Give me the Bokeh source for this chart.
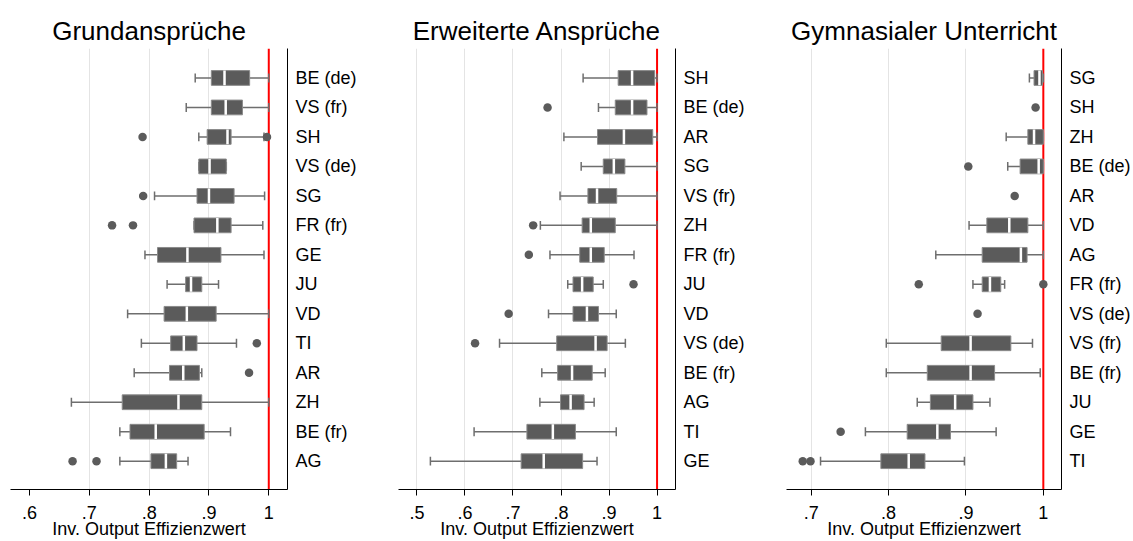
import numpy as np
from bokeh.plotting import figure
from bokeh.layouts import row
from bokeh.models import Range1d, FixedTicker, Span, ColumnDataSource
from bokeh.embed import file_html
from bokeh.resources import INLINE

NaN = float("nan")

# ---------------- data ----------------
# Panel 1: Grundansprüche (top to bottom)
p1_cats = ["BE (de)", "VS (fr)", "SH", "VS (de)", "SG", "FR (fr)", "GE",
           "JU", "VD", "TI", "AR", "ZH", "BE (fr)", "AG"]
p1_wlo = [0.877, 0.862, 0.883, 0.883, 0.809, 0.875, 0.793, 0.830, 0.764, 0.787, 0.775, 0.670, 0.751, 0.751]
p1_q1  = [0.904, 0.904, 0.897, 0.883, 0.880, 0.875, 0.814, 0.861, 0.825, 0.836, 0.834, 0.755, 0.768, 0.803]
p1_med = [0.926, 0.928, 0.931, 0.901, 0.900, 0.914, 0.864, 0.870, 0.863, 0.858, 0.857, 0.849, 0.811, 0.828]
p1_q3  = [0.968, 0.956, 0.937, 0.929, 0.942, 0.937, 0.920, 0.888, 0.912, 0.880, 0.884, 0.888, 0.892, 0.846]
p1_whi = [1.000, 1.000, 0.992, 0.929, 0.993, 0.990, 0.992, 0.916, 1.000, 0.946, 0.888, 1.000, 0.936, 0.865]
p1_out_cat = ["SH", "SH", "SG", "FR (fr)", "FR (fr)", "TI", "AR", "AG", "AG"]
p1_out_val = [0.789, 0.997, 0.790, 0.738, 0.773, 0.980, 0.967, 0.672, 0.712]

# Panel 2: Erweiterte Ansprüche
p2_cats = ["SH", "BE (de)", "AR", "SG", "VS (fr)", "ZH", "FR (fr)",
           "JU", "VD", "VS (de)", "BE (fr)", "AG", "TI", "GE"]
p2_wlo = [0.846, 0.878, 0.806, 0.842, 0.798, 0.757, 0.777, 0.814, 0.774, 0.672, 0.760, 0.756, 0.619, 0.528]
p2_q1  = [0.919, 0.913, 0.876, 0.888, 0.856, 0.844, 0.839, 0.825, 0.825, 0.791, 0.793, 0.799, 0.729, 0.717]
p2_med = [0.948, 0.948, 0.931, 0.910, 0.875, 0.862, 0.862, 0.844, 0.854, 0.872, 0.823, 0.820, 0.783, 0.764]
p2_q3  = [0.995, 0.979, 0.991, 0.933, 0.916, 0.913, 0.890, 0.867, 0.878, 0.896, 0.865, 0.848, 0.830, 0.845]
p2_whi = [1.000, 1.000, 1.000, 1.000, 1.000, 1.000, 0.952, 0.888, 0.915, 0.934, 0.892, 0.869, 0.915, 0.875]
p2_out_cat = ["BE (de)", "ZH", "FR (fr)", "JU", "VD", "VS (de)"]
p2_out_val = [0.772, 0.742, 0.733, 0.951, 0.691, 0.621]

# Panel 3: Gymnasialer Unterricht
p3_cats = ["SG", "SH", "ZH", "BE (de)", "AR", "VD", "AG", "FR (fr)",
           "VS (de)", "VS (fr)", "BE (fr)", "JU", "GE", "TI"]
p3_wlo = [0.982, NaN, 0.952, 0.954, NaN, 0.904, 0.861, 0.909, NaN, 0.797, 0.797, 0.837, 0.770, 0.712]
p3_q1  = [0.988, NaN, 0.980, 0.970, NaN, 0.927, 0.921, 0.921, NaN, 0.868, 0.850, 0.854, 0.824, 0.790]
p3_med = [0.995, NaN, 0.988, 0.994, NaN, 0.956, 0.971, 0.931, NaN, 0.906, 0.906, 0.886, 0.863, 0.826]
p3_q3  = [0.999, NaN, 1.000, 1.000, NaN, 0.980, 0.979, 0.945, NaN, 0.958, 0.937, 0.909, 0.880, 0.847]
p3_whi = [1.000, NaN, 1.000, 1.000, NaN, 1.000, 1.000, 0.950, NaN, 0.986, 0.996, 0.931, 0.939, 0.898]
p3_out_cat = ["SH", "BE (de)", "AR", "FR (fr)", "FR (fr)", "VS (de)", "GE", "TI", "TI"]
p3_out_val = [0.990, 0.903, 0.963, 0.839, 1.000, 0.915, 0.738, 0.689, 0.699]

titles = ["Grundansprüche", "Erweiterte Ansprüche", "Gymnasialer Unterricht"]
x_label = "Inv. Output Effizienzwert"
p1_xticks = [0.6, 0.7, 0.8, 0.9, 1.0]
p2_xticks = [0.5, 0.6, 0.7, 0.8, 0.9, 1.0]
p3_xticks = [0.7, 0.8, 0.9, 1.0]
xtick_labels = {0.5: ".5", 0.6: ".6", 0.7: ".7", 0.8: ".8", 0.9: ".9", 1.0: "1"}
p1_grid = [0.7, 0.8, 0.9]
p2_grid = [0.5, 0.6, 0.7, 0.8, 0.9]
p3_grid = [0.7, 0.8, 0.9]
reference_value = 1.0

# ---------------- style ----------------
FONT = "Liberation Sans"
BOX_FILL = "#5b5b5b"
BOX_LINE = "#8a8a8a"
WHISK = "#6e6e6e"
GRID = "#e4e4e4"


def make_panel(title, cats, wlo, q1, med, q3, whi, out_cat, out_val,
               xr, xticks, gridticks, width, border_left, border_right):
    n = len(cats)
    ypos = {c: float(n - i) for i, c in enumerate(cats)}
    y = np.array([ypos[c] for c in cats])
    src = ColumnDataSource(dict(
        y=y, wlo=np.array(wlo, float), q1=np.array(q1, float),
        med=np.array(med, float), q3=np.array(q3, float), whi=np.array(whi, float),
        ylo=y - 0.15, yhi=y + 0.15, mlo=y - 0.25, mhi=y + 0.25,
    ))
    osrc = ColumnDataSource(dict(x=np.array(out_val, float),
                                 y=np.array([ypos[c] for c in out_cat])))

    p = figure(width=width, height=541, x_range=Range1d(*xr),
               y_range=Range1d(0.04, 15.0), y_axis_location="right",
               output_backend="svg", toolbar_location=None,
               min_border_left=border_left, min_border_right=border_right,
               min_border_top=48, min_border_bottom=0,
               background_fill_color="white", border_fill_color="white")
    p.outline_line_color = None

    # title
    p.title.text = title
    p.title.text_font = FONT
    p.title.text_font_size = "26px"
    p.title.text_font_style = "normal"
    p.title.text_color = "black"
    p.title.align = "center"
    p.title.standoff = 5

    # grid
    p.ygrid.visible = False
    p.xgrid.ticker = FixedTicker(ticks=gridticks)
    p.xgrid.grid_line_color = GRID
    p.xgrid.grid_line_width = 1

    # reference line
    p.add_layout(Span(location=reference_value, dimension="height",
                      line_color="#ff0000", line_width=2, level="underlay"))

    # whiskers + caps
    p.segment(x0="wlo", y0="y", x1="q1", y1="y", source=src,
              line_color=WHISK, line_width=1.5)
    p.segment(x0="q3", y0="y", x1="whi", y1="y", source=src,
              line_color=WHISK, line_width=1.5)
    p.segment(x0="wlo", y0="ylo", x1="wlo", y1="yhi", source=src,
              line_color=WHISK, line_width=1.5)
    p.segment(x0="whi", y0="ylo", x1="whi", y1="yhi", source=src,
              line_color=WHISK, line_width=1.5)
    # boxes
    p.hbar(y="y", left="q1", right="q3", height=0.5, source=src,
           fill_color=BOX_FILL, line_color=BOX_LINE, line_width=1)
    # medians
    p.segment(x0="med", y0="mlo", x1="med", y1="mhi", source=src,
              line_color="white", line_width=2.5)
    # outliers
    p.scatter(x="x", y="y", source=osrc, marker="circle", size=8.5,
              fill_color=BOX_FILL, line_color=None)

    # x axis
    xa = p.xaxis[0]
    xa.ticker = FixedTicker(ticks=xticks)
    xa.major_label_overrides = {t: xtick_labels[t] for t in xticks}
    xa.minor_tick_line_color = None
    xa.major_tick_in = 0
    xa.major_tick_out = 6
    xa.major_tick_line_color = "black"
    xa.axis_line_color = "black"
    xa.axis_line_width = 1
    xa.major_label_text_font = FONT
    xa.major_label_text_font_size = "18px"
    xa.major_label_text_color = "black"
    xa.major_label_standoff = 10
    xa.axis_label = x_label
    xa.axis_label_text_font = FONT
    xa.axis_label_text_font_size = "18px"
    xa.axis_label_text_font_style = "normal"
    xa.axis_label_text_color = "black"
    xa.axis_label_standoff = -3

    # right (category) axis
    ya = p.yaxis[0]
    ya.ticker = FixedTicker(ticks=[float(v) for v in y])
    ya.major_label_overrides = {float(ypos[c]): c for c in cats}
    ya.minor_tick_line_color = None
    ya.major_tick_line_color = None
    ya.major_tick_in = 0
    ya.major_tick_out = 0
    ya.axis_line_color = "black"
    ya.axis_line_width = 1
    ya.major_label_text_font = FONT
    ya.major_label_text_font_size = "18px"
    ya.major_label_text_color = "black"
    ya.major_label_standoff = 8
    return p


p1 = make_panel(titles[0], p1_cats, p1_wlo, p1_q1, p1_med, p1_q3, p1_whi,
                p1_out_cat, p1_out_val, (0.5682, 1.0313), p1_xticks, p1_grid, 396, 10, 109)
p2 = make_panel(titles[1], p2_cats, p2_wlo, p2_q1, p2_med, p2_q3, p2_whi,
                p2_out_cat, p2_out_val, (0.4616, 1.0384), p2_xticks, p2_grid, 388, 2, 109)
p3 = make_panel(titles[2], p3_cats, p3_wlo, p3_q1, p3_med, p3_q3, p3_whi,
                p3_out_cat, p3_out_val, (0.668, 1.0235), p3_xticks, p3_grid, 349, 2, 70)

layout = row(p1, p2, p3)
open("out.html", "w").write(file_html(layout, INLINE))
